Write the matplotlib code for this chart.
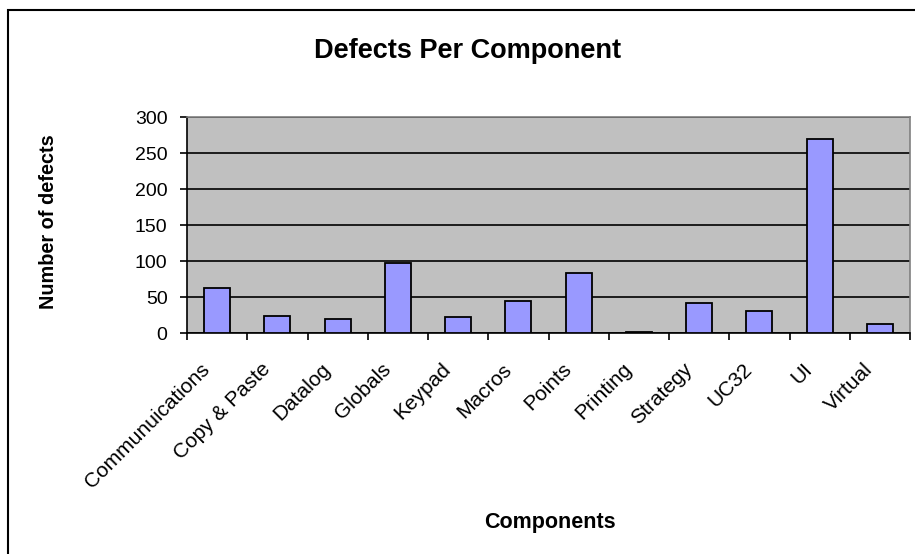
import numpy as np
import matplotlib
matplotlib.use('Agg')
import matplotlib.pyplot as plt
from matplotlib.patches import Rectangle
from matplotlib.transforms import ScaledTranslation

plt.rcParams['font.family'] = ['Liberation Sans', 'DejaVu Sans']

# Defects counted per component
components = ['Communuications', 'Copy & Paste', 'Datalog', 'Globals', 'Keypad',
              'Macros', 'Points', 'Printing', 'Strategy', 'UC32', 'UI', 'Virtual']
defects = [62, 24, 20, 97, 22, 45, 83, 2, 41, 30, 270, 13]
yticks = [0, 50, 100, 150, 200, 250, 300]

W, H = 915, 554
fig = plt.figure(figsize=(W / 100, H / 100), dpi=100)
ax = fig.add_axes([187 / W, 1 - 333 / H, (910 - 187) / W, (333 - 117) / H])

x = np.arange(len(components))
ax.set_facecolor('#C0C0C0')
ax.bar(x, defects, width=0.43, color='#9999FF', edgecolor='black',
       linewidth=1.3, zorder=3)

ax.set_xlim(-0.5, len(components) - 0.5)
ax.set_ylim(0, 300)
ax.set_yticks(yticks)
ax.set_yticklabels([str(v) for v in yticks], fontsize=14)
ax.yaxis.grid(True, color='black', linewidth=1.2, zorder=1)
ax.set_axisbelow(True)

# ticks sit on category boundaries, labels in the middle
ax.set_xticks(np.arange(len(components) + 1) - 0.5)
ax.set_xticklabels([])
ax.set_xticks(x, minor=True)
ax.set_xticklabels(components, minor=True, rotation=45, ha='right',
                   va='center', rotation_mode='anchor', fontsize=15)
ax.tick_params(axis='x', which='minor', length=0, pad=24)
ax.tick_params(axis='x', which='major', direction='out', length=5, width=1.2)
ax.tick_params(axis='y', direction='out', length=5, width=1.2, pad=9)
shift = ScaledTranslation(-10 / 100, 0, fig.dpi_scale_trans)
for lab in ax.get_xticklabels(minor=True):
    lab.set_transform(lab.get_transform() + shift)

for side in ['left', 'bottom']:
    ax.spines[side].set_color('black')
    ax.spines[side].set_linewidth(1.2)
for side in ['top', 'right']:
    ax.spines[side].set_color('#808080')
    ax.spines[side].set_linewidth(1.2)

fig.text(467.5 / W, 1 - 58 / H, 'Defects Per Component', ha='center',
         va='baseline', fontsize=19.5, fontweight='bold')
fig.text(550 / W, 1 - 528 / H, 'Components', ha='center', va='baseline',
         fontsize=15.5, fontweight='bold')
fig.text(48.5 / W, 1 - 222 / H, 'Number of defects', ha='center', va='center',
         rotation=90, fontsize=14.3, fontweight='bold')

# chart frame (cropped at right and bottom)
fig.add_artist(Rectangle((8 / W, -0.1), 1.2, 1 - 10 / H + 0.1,
                         transform=fig.transFigure, fill=False,
                         edgecolor='black', linewidth=1.5))

fig.savefig('out.png', dpi=100)
